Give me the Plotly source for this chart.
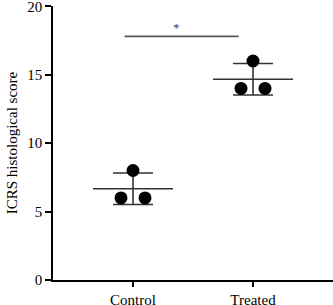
import plotly.graph_objects as go
import numpy as np

groups = ["Control", "Treated"]
control_scores = [8, 6, 6]
treated_scores = [16, 14, 14]
point_offsets = [0.0, -0.1, 0.1]
sig_label = "*"
sig_level = 17.8
y_ticks = [0, 5, 10, 15, 20]

series = [control_scores, treated_scores]
line_col = "#333333"
font_family = "Liberation Serif, Times New Roman, serif"

fig = go.Figure()
for i, vals in enumerate(series):
    v = np.array(vals, dtype=float)
    m = v.mean()
    sd = v.std(ddof=1)
    fig.add_trace(go.Scatter(x=[i - 1/3, i + 1/3], y=[m, m], mode="lines",
                             line=dict(color=line_col, width=1.6), showlegend=False, hoverinfo="skip"))
    fig.add_trace(go.Scatter(x=[i], y=[m], mode="markers", marker=dict(size=1, color="rgba(0,0,0,0)"),
                             error_y=dict(type="constant", value=sd, color=line_col, thickness=1.6, width=20),
                             showlegend=False, hoverinfo="skip"))
    fig.add_trace(go.Scatter(x=[i + o for o in point_offsets], y=vals, mode="markers",
                             marker=dict(size=13, color="black"), showlegend=False))

fig.add_trace(go.Scatter(x=[-0.07, 0.88], y=[sig_level, sig_level], mode="lines",
                         line=dict(color="#555555", width=1.6), showlegend=False, hoverinfo="skip"))
fig.add_annotation(x=0.364, y=sig_level, text=sig_label, showarrow=False, yshift=9,
                   font=dict(family=font_family, size=13, color="#444444"))

fig.update_layout(
    width=333, height=305,
    margin=dict(l=53, r=0, t=6, b=25),
    paper_bgcolor="white", plot_bgcolor="white",
    font=dict(family=font_family, size=15, color="black"),
    xaxis=dict(range=[-2/3, 5/3], tickvals=[0, 1], ticktext=groups, showline=True,
               linecolor="black", linewidth=1.5, ticks="outside", ticklen=5, tickwidth=1.5,
               tickcolor="black", showgrid=False, zeroline=False, automargin=False,
               ticklabeloverflow="allow", tickfont=dict(size=15)),
    yaxis=dict(range=[0, 20.02], tickvals=y_ticks, showline=True, linecolor="black", linewidth=1.5,
               ticks="outside", ticklen=6, tickwidth=1.5, tickcolor="black", showgrid=False,
               zeroline=False, automargin=False, ticklabeloverflow="allow",
               title=dict(text="ICRS histological score", font=dict(size=15), standoff=6),
               tickfont=dict(size=15)),
)
fig.write_html("out.html", config={"displayModeBar": False},
               post_script="document.body.style.margin='0';document.body.style.overflow='hidden';")
